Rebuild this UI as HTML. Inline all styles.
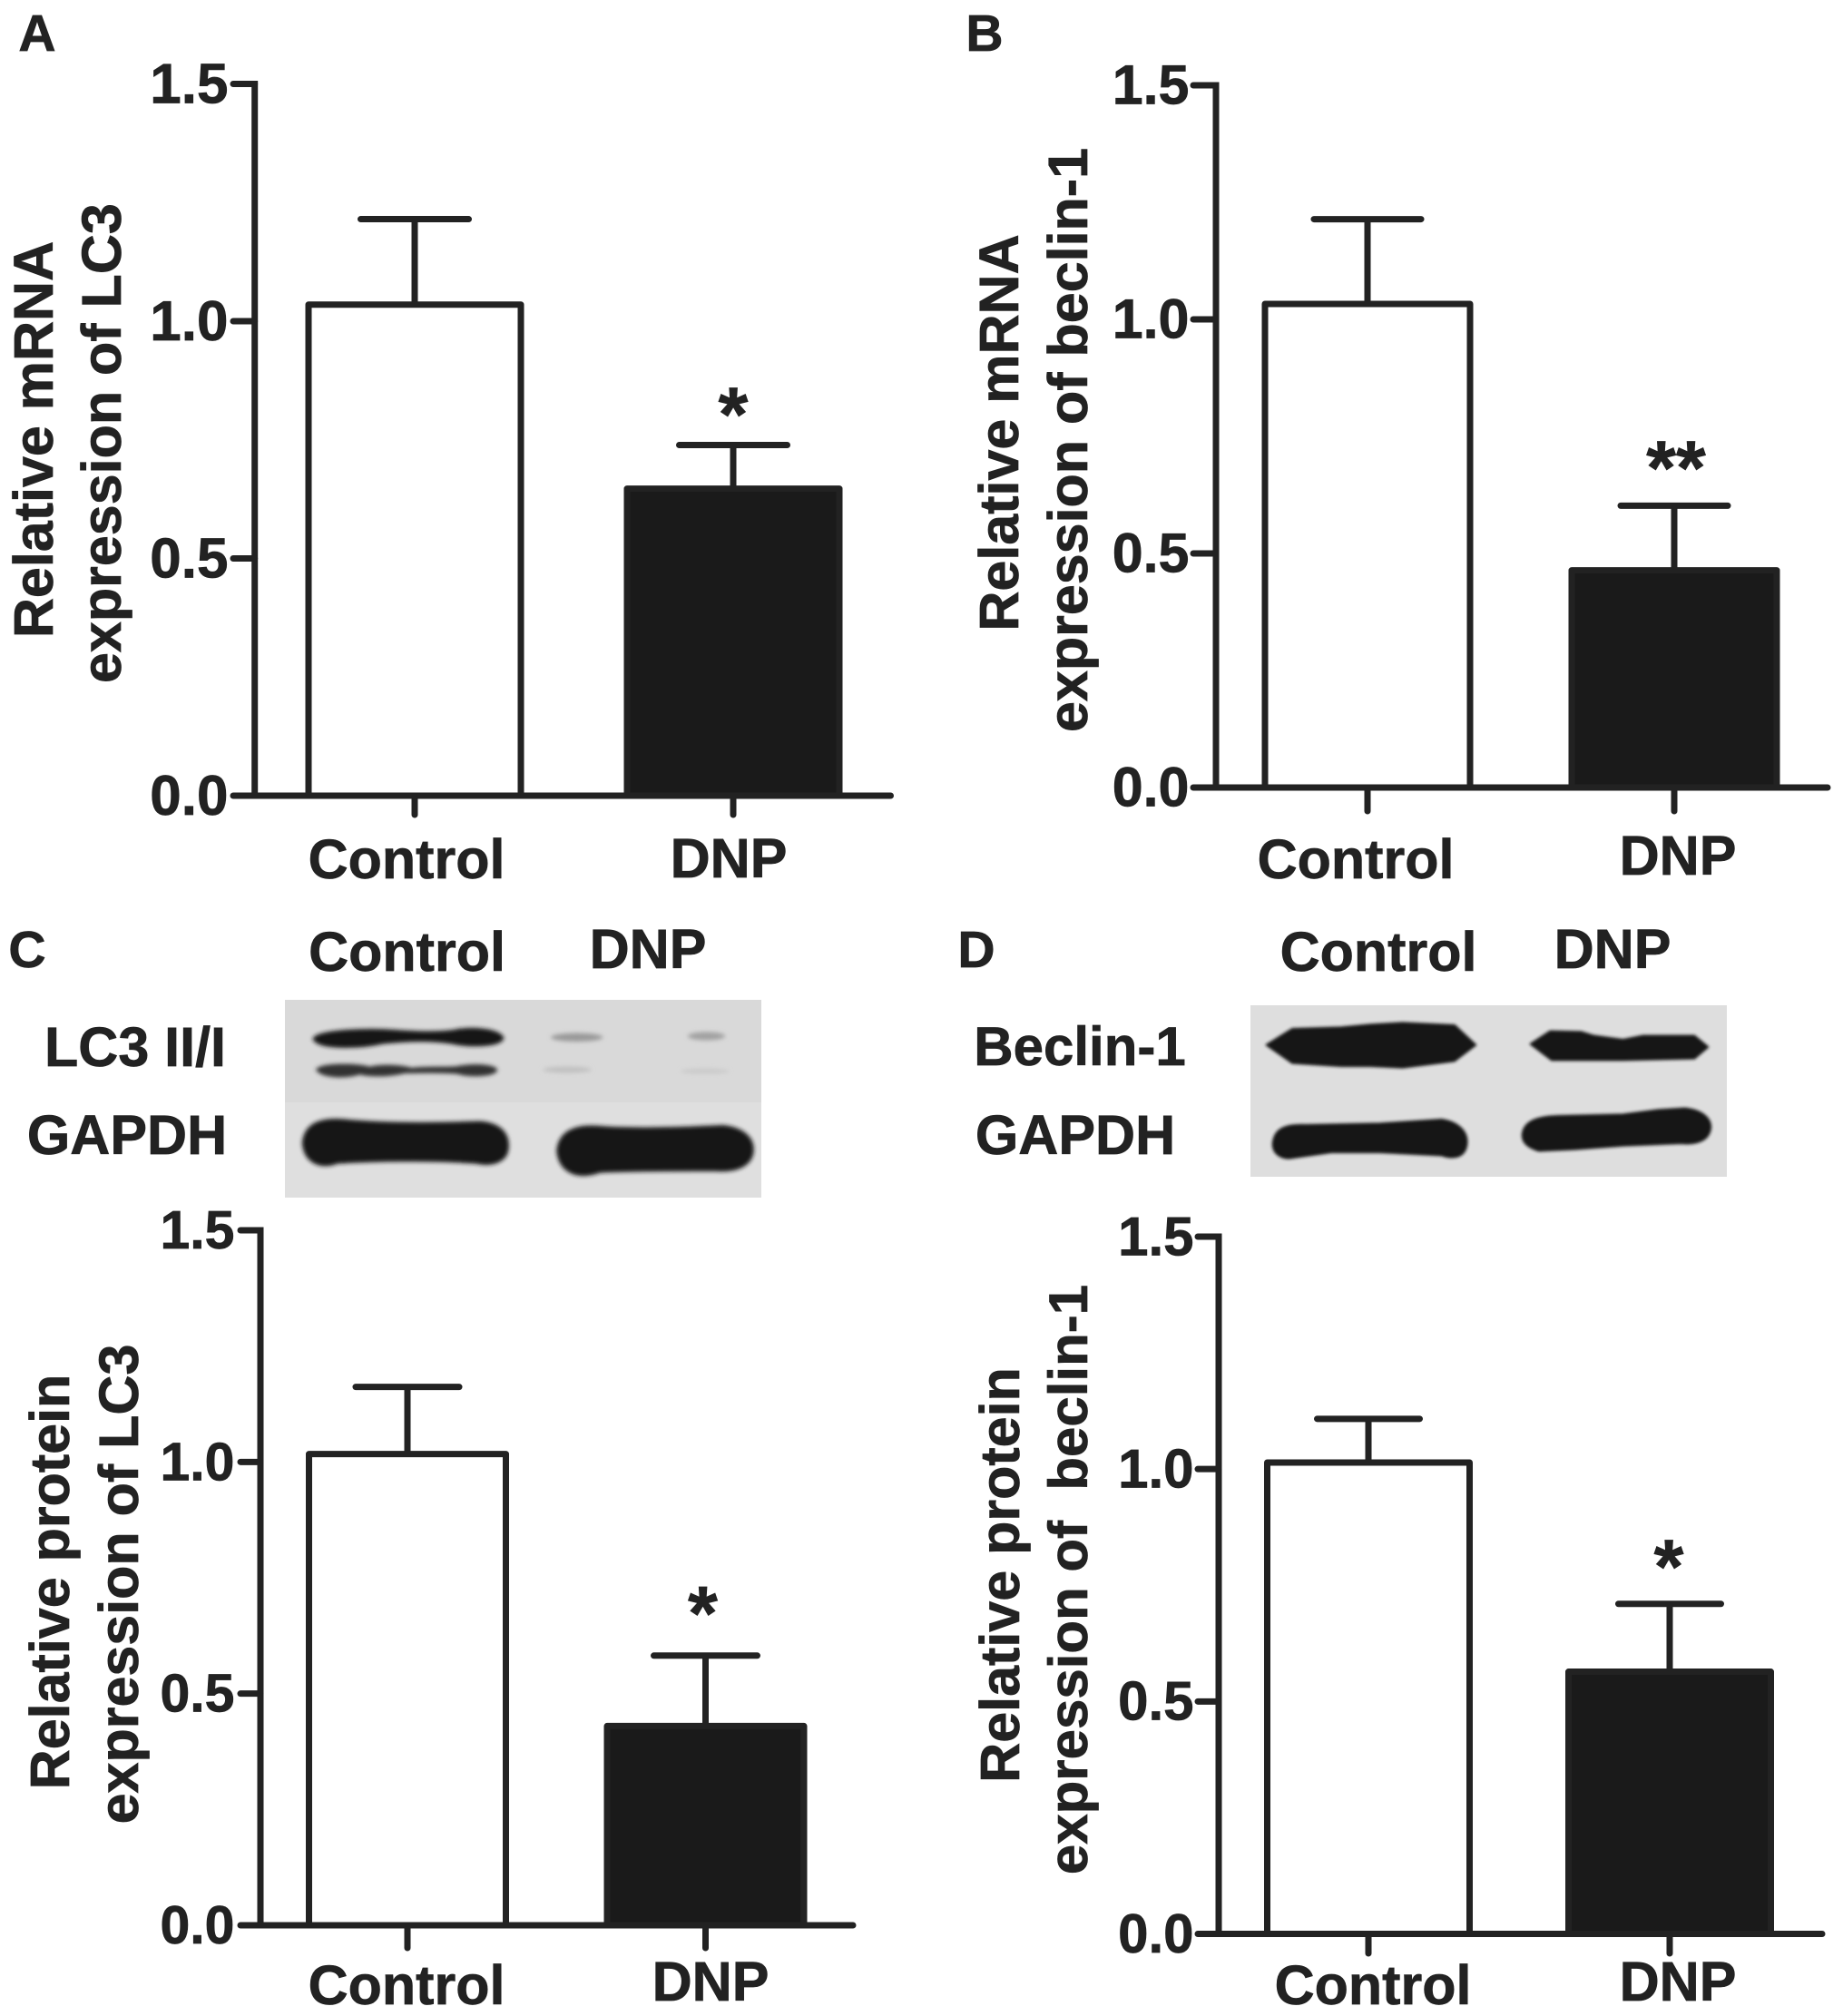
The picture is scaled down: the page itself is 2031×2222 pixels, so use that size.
<!DOCTYPE html>
<html>
<head>
<meta charset="utf-8">
<title>LC3 and beclin-1 expression</title>
<style>
html,body{margin:0;padding:0;background:#fff;width:2031px;height:2222px;overflow:hidden}
svg{display:block}
text{font-family:"Liberation Sans",Arial,sans-serif;font-weight:bold;fill:#222;stroke:#222;stroke-width:.7px}
</style>
</head>
<body>
<svg id="figure" width="2031" height="2222" viewBox="0 0 2031 2222" xmlns="http://www.w3.org/2000/svg">
<defs>
<filter id="blurC" filterUnits="userSpaceOnUse" x="0" y="0" width="1700" height="800"><feGaussianBlur stdDeviation="7"/></filter>
<filter id="blurD" filterUnits="userSpaceOnUse" x="0" y="0" width="1700" height="800"><feGaussianBlur stdDeviation="4.5"/></filter>
<clipPath id="clipC"><rect x="314" y="1102" width="525" height="218"/></clipPath>
<clipPath id="clipD"><rect x="1378" y="1108" width="525" height="189"/></clipPath>
</defs>

<g clip-path="url(#clipC)">
<rect x="314" y="1102" width="525" height="218" fill="#d9d9d9"/>
<rect x="314" y="1215" width="525" height="105" fill="#dfdfdf"/>
<g transform="translate(300,1080) scale(0.35714,0.33333)">
<g filter="url(#blurC)" fill="#161616" stroke-linejoin="round">
<path stroke="#161616" stroke-width="14" d="M132 195 C150 170 300 165 380 172 C440 176 500 180 560 172 C610 160 690 165 708 192 C700 215 610 218 555 205 C500 196 430 195 340 205 C270 222 150 225 132 195Z"/>
<path fill="#333" stroke="#333" stroke-width="10" d="M140 297 C160 278 270 280 300 292 C340 282 400 285 430 296 C480 288 560 296 580 288 C630 280 680 285 690 298 C680 316 610 318 570 306 C500 300 440 305 410 304 C350 318 300 316 270 308 C230 322 160 322 140 297Z"/>
<path stroke="#161616" stroke-width="16" d="M100 540 C105 480 150 462 220 468 C350 482 500 480 640 475 C700 480 725 510 722 555 C720 595 680 612 630 600 C500 590 320 592 200 600 C150 620 105 600 100 540Z"/>
<path stroke="#161616" stroke-width="16" d="M885 565 C890 510 930 485 1000 490 C1100 500 1250 495 1390 488 C1450 495 1480 525 1478 565 C1475 610 1430 630 1370 625 C1250 625 1100 625 1010 630 C930 660 890 620 885 565Z"/>
<ellipse cx="940" cy="190" rx="80" ry="14" fill="#9a9a9a"/>
<ellipse cx="1340" cy="186" rx="58" ry="14" fill="#a2a2a2"/>
<ellipse cx="910" cy="297" rx="75" ry="10" fill="#c0c0c0"/>
<ellipse cx="1335" cy="302" rx="75" ry="9" fill="#cacaca"/>
</g>
</g>
</g>

<g clip-path="url(#clipD)">
<rect x="1378" y="1108" width="525" height="189" fill="#dedede"/>
<g transform="translate(1360,1080) scale(0.35714,0.33333)">
<g filter="url(#blurD)" fill="#161616" stroke="#161616" stroke-width="6" stroke-linejoin="round">
<path d="M100 215 L180 162 L330 157 L420 148 L520 142 L680 150 L745 215 L680 268 L520 290 L420 285 L330 285 L180 275Z"/>
<path d="M915 212 L975 170 L1070 172 L1110 185 L1200 198 L1260 185 L1420 185 L1462 222 L1420 260 L1200 265 L980 265Z"/>
<path d="M120 540 C125 490 160 478 220 480 L450 475 L640 462 C690 470 720 500 718 540 C715 585 680 595 640 580 L450 570 L300 570 L170 590 C140 590 118 570 120 540Z"/>
<path d="M890 510 C895 470 930 452 1000 450 L1200 445 L1310 430 L1390 425 C1440 430 1472 455 1470 490 C1465 530 1430 545 1380 540 L1200 548 L1050 560 L940 565 C910 555 888 540 890 510Z"/>
</g>
</g>
</g>

<g>
<text x="41" y="56" font-size="57" text-anchor="middle">A</text>
<text x="1085" y="56" font-size="57" text-anchor="middle">B</text>
<text x="30" y="1066" font-size="57" text-anchor="middle">C</text>
<text x="1076" y="1066" font-size="57" text-anchor="middle">D</text>
<text x="448.5" y="1070" font-size="61" text-anchor="middle">Control</text>
<text x="714" y="1067" font-size="61" text-anchor="middle">DNP</text>
<text x="1519" y="1070" font-size="61" text-anchor="middle">Control</text>
<text x="1777" y="1067" font-size="61" text-anchor="middle">DNP</text>
<text x="149" y="1175" font-size="61" text-anchor="middle">LC3 II/I</text>
<text x="140" y="1272" font-size="61" text-anchor="middle">GAPDH</text>
<text x="1190" y="1174" font-size="60" text-anchor="middle">Beclin-1</text>
<text x="1185" y="1272" font-size="61" text-anchor="middle">GAPDH</text>
</g>
</svg>
<script>
const categories = ['Control', 'DNP'];
const tickValues = [0, 0.5, 1.0, 1.5];
const tickLabels = ['0.0', '0.5', '1.0', '1.5'];

const panelAMeans = [1.035, 0.647];
const panelAUpper = [1.215, 0.739];
const panelAStars = ['', '*'];
const panelATitles = ['Relative mRNA', 'expression of LC3'];

const panelBMeans = [1.033, 0.464];
const panelBUpper = [1.214, 0.602];
const panelBStars = ['', '**'];
const panelBTitles = ['Relative mRNA', 'expression of beclin-1'];

const panelCMeans = [1.017, 0.43];
const panelCUpper = [1.162, 0.582];
const panelCStars = ['', '*'];
const panelCTitles = ['Relative protein', 'expression of LC3'];

const panelDMeans = [1.014, 0.564];
const panelDUpper = [1.108, 0.71];
const panelDStars = ['', '*'];
const panelDTitles = ['Relative protein', 'expression of  beclin-1'];

const NS = 'http://www.w3.org/2000/svg';
const svg = document.getElementById('figure');
const INK = '#222';
const SW = 7;

function make(tag, attrs, parent) {
  const el = document.createElementNS(NS, tag);
  for (const k in attrs) el.setAttribute(k, attrs[k]);
  parent.appendChild(el);
  return el;
}

function drawPanel(id, means, upper, stars, titles, L) {
  const y = v => L.y0 - (v / 1.5) * (L.y0 - L.yTop);
  const x = i => L.c0 + i * (L.c1 - L.c0);
  const g = make('g', {}, svg);
  
  

  means.forEach((m, i) => {
    const cx = x(i);
    const err = make('line', {x1: cx, x2: cx, y1: y(m), y2: y(upper[i]), stroke: INK, 'stroke-width': SW}, g);
    
    
    const cap = make('line', {x1: cx - L.cap / 2, x2: cx + L.cap / 2, y1: y(upper[i]), y2: y(upper[i]), stroke: INK, 'stroke-width': SW, 'stroke-linecap': 'round'}, g);
    
    
    const bar = make('rect', {x: cx - L.bar / 2, y: y(m), width: L.bar, height: L.y0 - y(m), fill: i === 0 ? '#fff' : '#1a1a1a', stroke: INK, 'stroke-width': SW, 'stroke-linejoin': 'round'}, g);
    
    
    const tick = make('line', {x1: cx, x2: cx, y1: L.y0, y2: L.tickEnd, stroke: INK, 'stroke-width': SW, 'stroke-linecap': 'round'}, g);
    
    
    const label = make('text', {x: L.labelX[i], y: L.labelY[i] + 22, 'font-size': 61, 'text-anchor': 'middle'}, g);
    label.textContent = categories[i];
    
    
    if (stars[i]) {
      const star = make('text', {x: cx + L.starDx, y: y(upper[i]) - L.starGap, 'font-size': 84, 'text-anchor': 'middle'}, g);
      star.textContent = stars[i];
      
      
    }
  });

  const yAxis = make('line', {x1: L.axisX, x2: L.axisX, y1: L.yTop - SW / 2, y2: L.y0 + SW / 2, stroke: INK, 'stroke-width': SW}, g);
  
  
  const xAxis = make('line', {x1: L.axisX, x2: L.xEnd, y1: L.y0, y2: L.y0, stroke: INK, 'stroke-width': SW, 'stroke-linecap': 'round'}, g);
  
  

  tickValues.forEach((t, i) => {
    const tk = make('line', {x1: L.tickLeft, x2: L.axisX, y1: y(t), y2: y(t), stroke: INK, 'stroke-width': SW, 'stroke-linecap': 'round'}, g);
    
    
    const lb = make('text', {x: L.tickLabelRight, y: y(t) + 0.34 * L.tickFont, 'font-size': L.tickFont, 'text-anchor': 'end'}, g);
    lb.textContent = tickLabels[i];
    
    
  });

  titles.forEach((t, i) => {
    const tt = make('text', {transform: 'translate(' + L.titleX[i] + ',' + L.titleY[i] + ') rotate(-90)', 'font-size': L.titleFont[i], 'text-anchor': 'middle'}, g);
    tt.textContent = t;
    tt.style.whiteSpace = 'pre';
    
    
  });
}

drawPanel('a', panelAMeans, panelAUpper, panelAStars, panelATitles, {
  axisX: 280.7, yTop: 92.5, y0: 877, xEnd: 981.5, tickLeft: 257, tickEnd: 898, tickLabelRight: 251.5, tickFont: 62,
  c0: 457, c1: 808, bar: 234, cap: 119, starDx: 0, starGap: 5,
  labelX: [448, 803], labelY: [946, 945], titleX: [58, 133], titleY: [484.5, 488.6], titleFont: [61, 61]
});
drawPanel('b', panelBMeans, panelBUpper, panelBStars, panelBTitles, {
  axisX: 1340, yTop: 94, y0: 868, xEnd: 2014, tickLeft: 1315, tickEnd: 894, tickLabelRight: 1310.5, tickFont: 61,
  c0: 1507, c1: 1845, bar: 226, cap: 118, starDx: 2, starGap: 13,
  labelX: [1494, 1849], labelY: [946, 942], titleX: [1122, 1198], titleY: [477, 485], titleFont: [61, 61]
});
drawPanel('c', panelCMeans, panelCUpper, panelCStars, panelCTitles, {
  axisX: 287, yTop: 1356, y0: 2122, xEnd: 940, tickLeft: 265, tickEnd: 2147, tickLabelRight: 258.5, tickFont: 59,
  c0: 449, c1: 777.5, bar: 217, cap: 114, starDx: -3, starGap: 18,
  labelX: [448, 783], labelY: [2187, 2183], titleX: [76, 152], titleY: [1743.5, 1746], titleFont: [61, 61]
});
drawPanel('d', panelDMeans, panelDUpper, panelDStars, panelDTitles, {
  axisX: 1343, yTop: 1363, y0: 2131.5, xEnd: 2008, tickLeft: 1320, tickEnd: 2153, tickLabelRight: 1315.5, tickFont: 60,
  c0: 1508, c1: 1840, bar: 223, cap: 113, starDx: -1, starGap: 12,
  labelX: [1513, 1849], labelY: [2187, 2183], titleX: [1123, 1198], titleY: [1736, 1741], titleFont: [61, 60]
});
</script>
</body>
</html>
